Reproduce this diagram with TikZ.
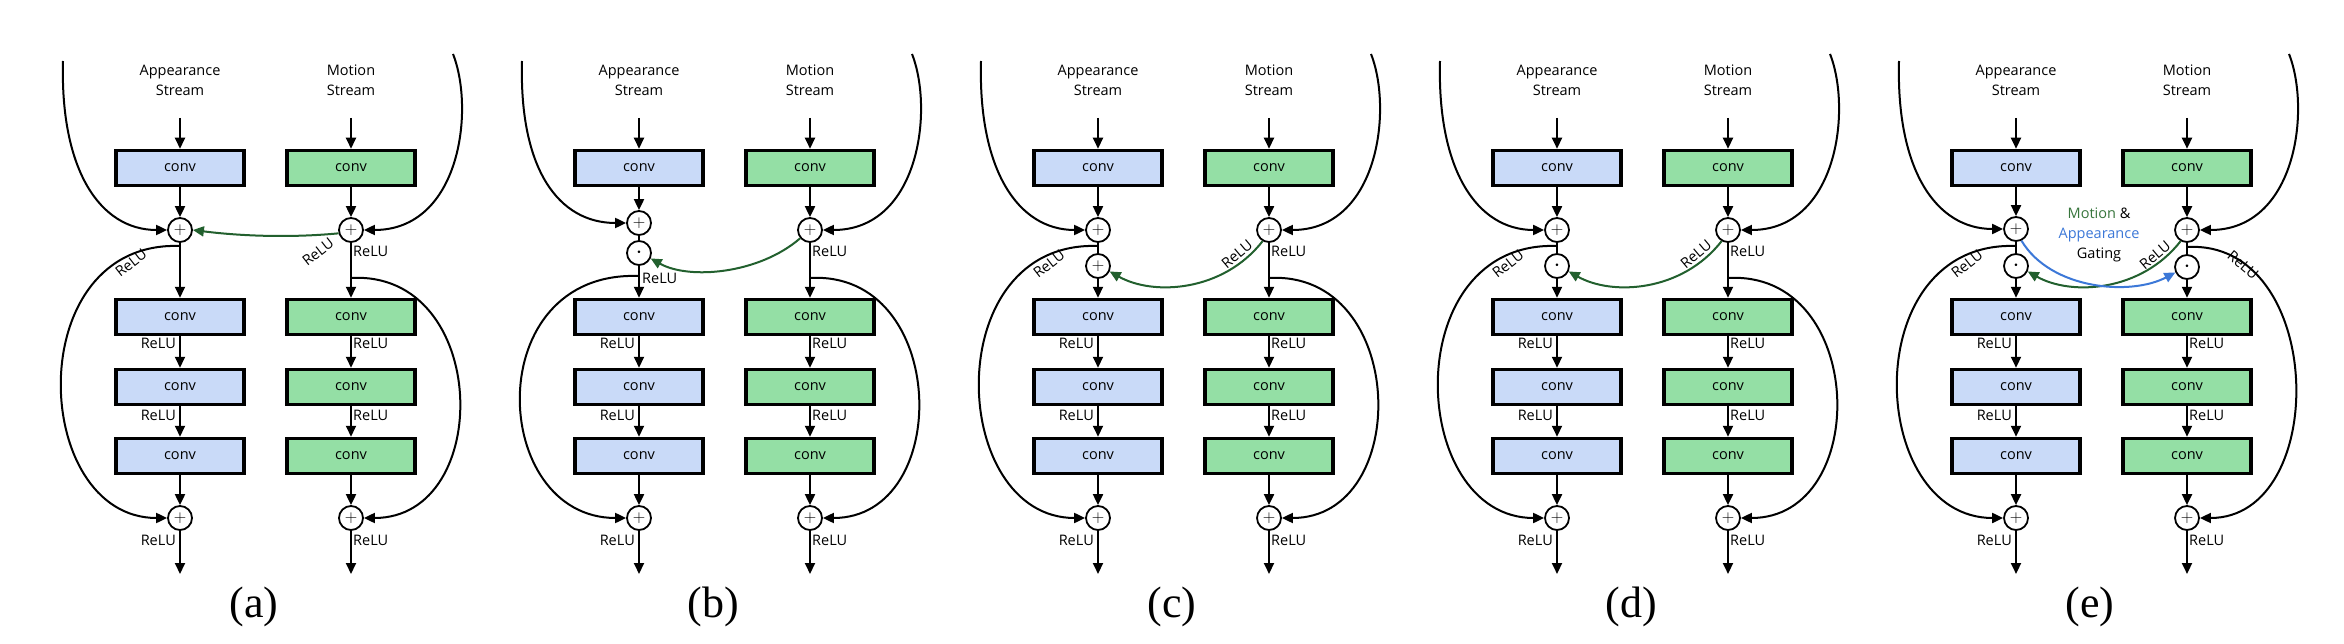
\documentclass[tikz,border=0pt]{standalone}
\usepackage{fontspec}
\setmainfont{Open Sans}
\newfontfamily\capfont{Liberation Serif}
\usetikzlibrary{arrows.meta}

\definecolor{appblue}{HTML}{C9DAF8}
\definecolor{motgreen}{HTML}{94DFA5}
\definecolor{gatgreen}{HTML}{22602E}
\definecolor{gatblue}{HTML}{3C78D8}
\definecolor{txtgreen}{HTML}{38763D}

\tikzset{
  conv/.style={draw, line width=3.5pt, minimum width=128pt, minimum height=35pt,
    inner sep=0pt, font=\fontsize{14.5}{17}\selectfont},
  appconv/.style={conv, fill=appblue},
  motconv/.style={conv, fill=motgreen},
  op/.style={draw, circle, line width=1.8pt, minimum size=24pt, inner sep=0pt,
    fill=white, font=\fontsize{16}{16}\selectfont},
  gate/.style={op, font=\fontsize{24}{24}\selectfont},
  lbl/.style={inner sep=0pt, font=\fontsize{14.5}{20}\selectfont},
  ln/.style={line width=2pt},
  arr/.style={line width=2pt, -{Triangle[length=11pt,width=10pt]}},
}

\begin{document}
\begin{tikzpicture}[x=1pt, y=-1pt]
\fill[white] (0,0) rectangle (2344,644);
\useasboundingbox (0,0) rectangle (2344,644);

% the same two streams in every panel
\foreach \p/\apy/\sly/\sry [count=\i from 0] in {a/230/246/278, b/223/276/278, c/230/246/278, d/230/246/278, e/229/246/247}{
\begin{scope}[xshift=\i*459pt]
  \node[lbl, align=center] (\p-at) at (180,80) {Appearance\\Stream};
  \node[lbl, align=center] (\p-mt) at (351,80) {Motion\\Stream};

  \coordinate (\p-ain) at (180,118);
  \coordinate (\p-min) at (351,118);
  \node[appconv] (\p-a1) at (180,168) {conv};
  \node[motconv] (\p-m1) at (351,168) {conv};
  \node[op] (\p-ap) at (180,\apy) {$+$};
  \node[op] (\p-mp) at (351,230) {$+$};
  \node[appconv] (\p-a2) at (180,317) {conv};
  \node[motconv] (\p-m2) at (351,317) {conv};
  \node[appconv] (\p-a3) at (180,387) {conv};
  \node[motconv] (\p-m3) at (351,387) {conv};
  \node[appconv] (\p-a4) at (180,456) {conv};
  \node[motconv] (\p-m4) at (351,456) {conv};
  \node[op] (\p-ab) at (180,518) {$+$};
  \node[op] (\p-mb) at (351,518) {$+$};
  \coordinate (\p-aout) at (180,574);
  \coordinate (\p-mout) at (351,574);

  \draw[arr] (\p-ain) -- (\p-a1);
  \draw[arr] (\p-min) -- (\p-m1);
  \draw[arr] (\p-a1) -- (\p-ap);
  \draw[arr] (\p-m1) -- (\p-mp);
  \draw[arr] (\p-a2) -- (\p-a3);
  \draw[arr] (\p-m2) -- (\p-m3);
  \draw[arr] (\p-a3) -- (\p-a4);
  \draw[arr] (\p-m3) -- (\p-m4);
  \draw[arr] (\p-a4) -- (\p-ab);
  \draw[arr] (\p-m4) -- (\p-mb);
  \draw[arr] (\p-ab) -- (\p-aout);
  \draw[arr] (\p-mb) -- (\p-mout);

  \node[lbl, anchor=east] (\p-r1) at (176,343) {ReLU};
  \node[lbl, anchor=west] (\p-r2) at (353,343) {ReLU};
  \node[lbl, anchor=east] (\p-r3) at (176,415) {ReLU};
  \node[lbl, anchor=west] (\p-r4) at (353,415) {ReLU};
  \node[lbl, anchor=east] (\p-r8) at (176,540) {ReLU};
  \node[lbl, anchor=west] (\p-r9) at (353,540) {ReLU};

  % skip connections
  \coordinate (\p-atop) at (63,61);
  \coordinate (\p-mtop) at (453,54);
  \coordinate (\p-sl) at (180,\sly);
  \coordinate (\p-sr) at (351,\sry);
  \draw[arr] (\p-atop) .. controls (60,170) and (100,\apy) .. (\p-ap.west);
  \draw[arr] (\p-mtop) .. controls (475,110) and (460,230) .. (\p-mp.east);
  \draw[arr] (\p-sl) .. controls (20,\sly-6) and (30,518) .. (\p-ab.west);
  \draw[arr] (\p-sr) .. controls (490,\sry-8) and (495,518) .. (\p-mb.east);

  \node[font=\capfont\fontsize{44}{44}\selectfont] (\p-cap) at (254,607) {(\p)};
\end{scope}
}

% (a)
\draw[arr] (a-ap) -- (a-a2);
\draw[arr] (a-mp) -- (a-m2);
\node[lbl, anchor=west] (a-r5) at (353,251) {ReLU};
\node[lbl, rotate=38] (a-r6) at (131,263) {ReLU};
\node[lbl, rotate=38] (a-r7) at (318,252) {ReLU};
\draw[arr, gatgreen] (a-mp.195) .. controls (290,238) and (240,236) .. (a-ap.east);

% (b)
\begin{scope}[xshift=459pt]
  \node[gate] (b-ag) at (180,253) {$\cdot$};
  \draw[ln] (b-ap) -- (b-ag);
  \draw[arr] (b-ag) -- (b-a2);
  \draw[arr] (b-mp) -- (b-m2);
  \node[lbl, anchor=west] (b-r5) at (353,251) {ReLU};
  \node[lbl, anchor=west] (b-r6) at (183,278) {ReLU};
  \draw[arr, gatgreen] (b-mp.220) .. controls (300,274) and (230,280) .. (b-ag.-25);
\end{scope}

% (c)
\begin{scope}[xshift=918pt]
  \node[op] (c-ag) at (180,266) {$+$};
  \draw[ln] (c-ap) -- (c-ag);
  \draw[arr] (c-ag) -- (c-a2);
  \draw[arr] (c-mp) -- (c-m2);
  \node[lbl, anchor=west] (c-r5) at (353,251) {ReLU};
  \node[lbl, rotate=38] (c-r6) at (131,264) {ReLU};
  \node[lbl, rotate=40] (c-r7) at (319,254) {ReLU};
  \draw[arr, gatgreen] (c-mp.240) .. controls (305,292) and (235,296) .. (c-ag.-25);
\end{scope}

% (d)
\begin{scope}[xshift=1377pt]
  \node[gate] (d-ag) at (180,266) {$\cdot$};
  \draw[ln] (d-ap) -- (d-ag);
  \draw[arr] (d-ag) -- (d-a2);
  \draw[arr] (d-mp) -- (d-m2);
  \node[lbl, anchor=west] (d-r5) at (353,251) {ReLU};
  \node[lbl, rotate=38] (d-r6) at (131,264) {ReLU};
  \node[lbl, rotate=40] (d-r7) at (319,254) {ReLU};
  \draw[arr, gatgreen] (d-mp.240) .. controls (305,292) and (235,296) .. (d-ag.-25);
\end{scope}

% (e)
\begin{scope}[xshift=1836pt]
  \node[gate] (e-ag) at (180,266) {$\cdot$};
  \node[gate] (e-mg) at (351,267) {$\cdot$};
  \draw[ln] (e-ap) -- (e-ag);
  \draw[arr] (e-ag) -- (e-a2);
  \draw[ln] (e-mp) -- (e-mg);
  \draw[arr] (e-mg) -- (e-m2);
  \node[lbl, rotate=38] (e-r5) at (131,264) {ReLU};
  \node[lbl, rotate=40] (e-r6) at (319,255) {ReLU};
  \node[lbl, rotate=-40] (e-r7) at (407,265) {ReLU};
  \draw[arr, gatgreen] (e-mp.240) .. controls (305,292) and (235,296) .. (e-ag.-25);
  \draw[arr, gatblue] (e-ap.-65) .. controls (215,290) and (295,296) .. (e-mg.205);
  \node[lbl, align=center] (e-gt) at (263,235)
    {\textcolor{txtgreen}{Motion} \&\\\textcolor{gatblue}{Appearance}\\Gating};
\end{scope}
\end{tikzpicture}
\end{document}
